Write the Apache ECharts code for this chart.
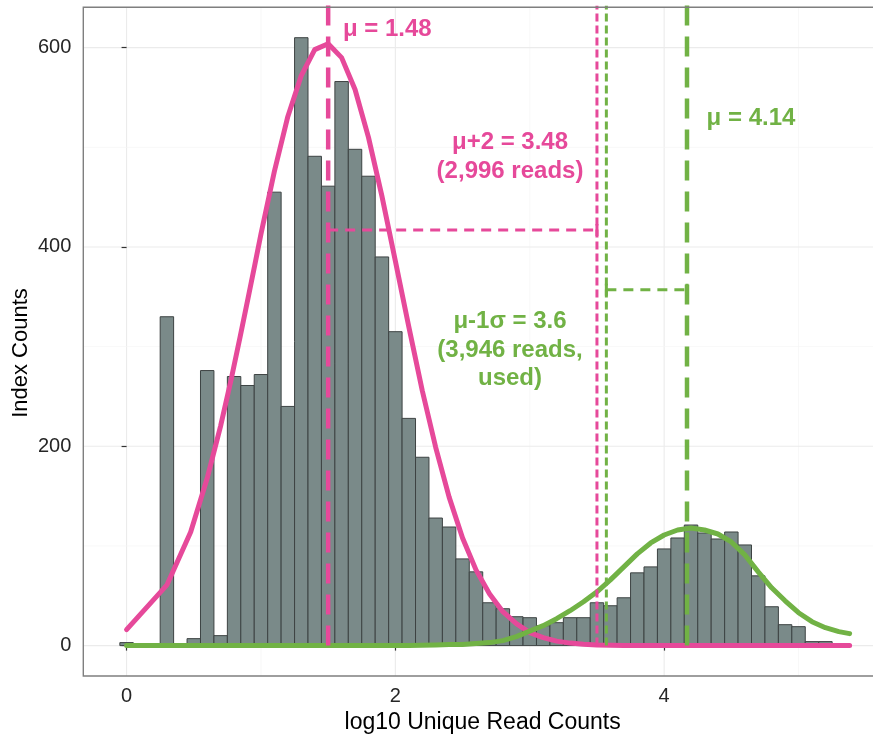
<!DOCTYPE html>
<html>
<head>
<meta charset="utf-8">
<script src="https://cdn.jsdelivr.net/npm/echarts@6/dist/echarts.min.js"></script>
<style>
html,body{margin:0;padding:0;background:#ffffff;}
#chart{width:873px;height:739px;}
</style>
</head>
<body>
<div id="chart"></div>
<script>
// ---------------- data ----------------
const binCenters = [0.0,0.1,0.2,0.3,0.4,0.5,0.6,0.7,0.8,0.9,1.0,1.1,1.2,1.3,1.4,1.5,1.6,1.7,1.8,1.9,2.0,2.1,2.2,2.3,2.4,2.5,2.6,2.7,2.8,2.9,3.0,3.1,3.2,3.3,3.4,3.5,3.6,3.7,3.8,3.9,4.0,4.1,4.2,4.3,4.4,4.5,4.6,4.7,4.8,4.9,5.0,5.1,5.2];
const binCounts  = [3,0,0,330,0,7,276,10,270,261,272,455,240,610,491,461,566,498,471,390,315,228,189,128,119,87,74,43,37,29,28,20,23,28,28,43,40,48,73,79,97,108,121,113,107,114,101,70,39,21,19,4,4];
const binWidth = 0.1;

const curveX = [0,0.301,0.477,0.602,0.699,0.778,0.845,0.903,0.954,1.0,1.1,1.2,1.3,1.4,1.5,1.6,1.7,1.8,1.9,2.0,2.1,2.2,2.3,2.4,2.5,2.6,2.7,2.8,2.9,3.0,3.1,3.2,3.3,3.4,3.5,3.6,3.7,3.8,3.9,4.0,4.1,4.2,4.3,4.4,4.5,4.6,4.7,4.8,4.9,5.0,5.1,5.2,5.3,5.38];
const pinkFit  = [16,61,114,169,220,267,310,348,382,413,476,531,572,598,604,590,558,510,451,386,320,256,199,149,108,76,52,34,22,13,8,4.5,2.5,1.4,0.7,0.4,0.2,0.1,0,0,0,0,0,0,0,0,0,0,0,0,0,0,0,0];
const greenFit = [0,0,0,0,0,0,0,0,0,0,0,0,0,0,0,0,0,0,0,0.1,0.2,0.3,0.6,1.1,1.2,2,3,5,9,14.5,20,27,35,44,54,66,79,92,103,111,116,118,116,112,104,91,74,58,45,33,24,18,14,12];

const xTickValues = [0,2,4];
const xMinorValues = [1,3,5];
const yTickValues = [0,200,400,600];
const yMinorValues = [100,300,500];

const pinkMean = 1.50;     // dashed mean line (label 1.48)
const pinkCutoff = 3.50;   // dotted line (label 3.48)
const greenMean = 4.17;    // dashed mean line (label 4.14)
const greenCutoff = 3.57;  // dotted line (label 3.6)
const pinkBracketY = 417;
const greenBracketY = 357;

const annotationTexts = [
  'μ = 1.48',
  'μ+2 = 3.48\n(2,996 reads)',
  'μ-1σ = 3.6\n(3,946 reads,\nused)',
  'μ = 4.14'
];
const xTitle = 'log10 Unique Read Counts';
const yTitle = 'Index Counts';

// ---------------- styles ----------------
const PINK = '#e6499a';
const GREEN = '#71b245';
const BAR_FILL = '#7a8a89';
const BAR_STROKE = '#3d4343';
const FONT = '"Liberation Sans", Arial, Helvetica, sans-serif';

// panel extends past the right edge of the picture (cropped)
const X_MIN = -0.322, X_MAX = 5.554, Y_MIN = -30.5, Y_MAX = 640.5;

const chart = echarts.init(document.getElementById('chart'), null, {renderer: 'canvas'});

function refLine(name, x, color, width, dash, z) {
  return {
    name, type: 'line', data: [[x, 0], [x, Y_MAX + 100]],
    symbol: 'none', clip: true, silent: true, z,
    lineStyle: {color, width, type: dash, cap: 'butt'}
  };
}
function hLine(name, x0, x1, y, color) {
  return {
    name, type: 'line', data: [[x0, y], [x1, y]],
    symbol: 'none', clip: true, silent: true, z: 6,
    lineStyle: {color, width: 3, type: [10, 7], cap: 'butt'}
  };
}
function capSeries(name, xs, y, color) {
  return {
    name, type: 'custom', coordinateSystem: 'cartesian2d', silent: true, z: 6, clip: true,
    data: xs.map(v => [v, y]),
    renderItem(params, api) {
      const p = api.coord([api.value(0), api.value(1)]);
      return {type: 'line', shape: {x1: p[0], y1: p[1] - 6, x2: p[0], y2: p[1] + 6},
              style: {stroke: color, lineWidth: 3}};
    }
  };
}

const gridLineData = []
  .concat(xTickValues.map(v => [v, 0, 'x', 'major']))
  .concat(xMinorValues.map(v => [v, 0, 'x', 'minor']))
  .concat(yTickValues.map(v => [0, v, 'y', 'major']))
  .concat(yMinorValues.map(v => [0, v, 'y', 'minor']));

const annotationLayout = [
  {x: 1.61, y: 618, color: PINK, align: 'left', lh: 28},
  {x: 2.853, y: 490, color: PINK, align: 'center', lh: 29},
  {x: 2.853, y: 296.5, color: GREEN, align: 'center', lh: 28.5},
  {x: 4.316, y: 529, color: GREEN, align: 'left', lh: 28}
];

const option = {
  animation: false,
  backgroundColor: '#ffffff',
  grid: {left: 83.3, top: 7.3, right: 0, height: 668.7, show: false},
  xAxis: {
    type: 'value', min: X_MIN, max: X_MAX,
    name: xTitle, nameLocation: 'middle', nameGap: 29,
    nameTextStyle: {fontFamily: FONT, fontSize: 23, color: '#000', padding: [0, 0, 0, 9]},
    axisLine: {show: false},
    axisTick: {show: true, length: 5, customValues: xTickValues, lineStyle: {color: '#333', width: 1.2}},
    axisLabel: {show: true, customValues: xTickValues, margin: 10, fontFamily: FONT, fontSize: 20, color: '#262626'},
    splitLine: {show: false}, minorTick: {show: false}, minorSplitLine: {show: false}
  },
  yAxis: {
    type: 'value', min: Y_MIN, max: Y_MAX,
    axisLine: {show: false},
    axisTick: {show: true, length: 5, customValues: yTickValues, lineStyle: {color: '#333', width: 1.2}},
    axisLabel: {show: true, customValues: yTickValues, margin: 12, fontFamily: FONT, fontSize: 20, color: '#262626'},
    splitLine: {show: false}, minorTick: {show: false}, minorSplitLine: {show: false}
  },
  graphic: [{
    type: 'text', x: 21, y: 353, rotation: Math.PI / 2, silent: true,
    style: {text: yTitle, fontFamily: FONT, fontSize: 22, fill: '#000', align: 'center', verticalAlign: 'middle'}
  }],
  series: [
    {
      name: 'gridlines', type: 'custom', coordinateSystem: 'cartesian2d', silent: true, z: 0, clip: true,
      data: gridLineData,
      renderItem(params, api) {
        const cs = params.coordSys;
        const v = api.value(0), w = api.value(1);
        const dir = gridLineData[params.dataIndex][2];
        const kind = gridLineData[params.dataIndex][3];
        const style = kind === 'major' ? {stroke: '#ebebeb', lineWidth: 1.1} : {stroke: '#f5f5f5', lineWidth: 0.7};
        if (dir === 'x') {
          const p = api.coord([v, 0]);
          return {type: 'line', shape: {x1: p[0], y1: cs.y, x2: p[0], y2: cs.y + cs.height}, style};
        }
        const p = api.coord([0, w]);
        return {type: 'line', shape: {x1: cs.x, y1: p[1], x2: cs.x + cs.width, y2: p[1]}, style};
      }
    },
    {
      name: 'panel border', type: 'custom', coordinateSystem: 'cartesian2d', silent: true, z: 8, clip: false,
      data: [[0, 0]],
      renderItem(params, api) {
        const cs = params.coordSys;
        const r = cs.x + cs.width + 20;
        return {
          type: 'polyline',
          shape: {points: [[r, cs.y], [cs.x, cs.y], [cs.x, cs.y + cs.height], [r, cs.y + cs.height]]},
          style: {stroke: '#7f7f7f', lineWidth: 1.4, fill: null}
        };
      }
    },
    {
      name: 'histogram', type: 'custom', coordinateSystem: 'cartesian2d', z: 2, clip: true,
      data: binCenters.map((c, i) => [c, binCounts[i]]),
      encode: {x: 0, y: 1},
      renderItem(params, api) {
        const c = api.value(0), h = api.value(1);
        if (!h) return null;
        const p0 = api.coord([c - binWidth / 2, h]);
        const p1 = api.coord([c + binWidth / 2, 0]);
        return {
          type: 'rect',
          shape: {x: p0[0], y: p0[1], width: p1[0] - p0[0], height: p1[1] - p0[1]},
          style: {fill: BAR_FILL, stroke: BAR_STROKE, lineWidth: 1}
        };
      }
    },
    {
      name: 'fit low', type: 'line', data: curveX.map((x, i) => [x, pinkFit[i]]),
      symbol: 'none', smooth: false, z: 3, clip: true, silent: true,
      lineStyle: {color: PINK, width: 5, cap: 'round', join: 'round'}
    },
    {
      name: 'fit high', type: 'line', data: curveX.map((x, i) => [x, greenFit[i]]),
      symbol: 'none', smooth: false, z: 3, clip: true, silent: true,
      lineStyle: {color: GREEN, width: 5, cap: 'round', join: 'round'}
    },
    refLine('mean low', pinkMean, PINK, 4.5, [20, 11], 5),
    refLine('mean high', greenMean, GREEN, 4.5, [20, 11], 5),
    refLine('cutoff low', pinkCutoff, PINK, 3, [8, 4], 5),
    refLine('cutoff high', greenCutoff, GREEN, 3, [8, 4], 5),
    hLine('bracket low', pinkMean, pinkCutoff, pinkBracketY, PINK),
    hLine('bracket high', greenCutoff, greenMean, greenBracketY, GREEN),
    capSeries('caps low', [pinkMean, pinkCutoff], pinkBracketY, PINK),
    capSeries('caps high', [greenCutoff, greenMean], greenBracketY, GREEN),
    {
      name: 'annotations', type: 'custom', coordinateSystem: 'cartesian2d', silent: true, z: 7, clip: false,
      data: annotationLayout.map(a => [a.x, a.y]),
      renderItem(params, api) {
        const a = annotationLayout[params.dataIndex];
        const p = api.coord([api.value(0), api.value(1)]);
        return {
          type: 'text', x: p[0], y: p[1],
          style: {
            text: annotationTexts[params.dataIndex],
            fontFamily: FONT, fontWeight: 'bold', fontSize: 24, fill: a.color, opacity: 1,
            align: a.align, verticalAlign: 'middle', lineHeight: a.lh
          }
        };
      }
    }
  ]
};
chart.setOption(option);
</script>
</body>
</html>
